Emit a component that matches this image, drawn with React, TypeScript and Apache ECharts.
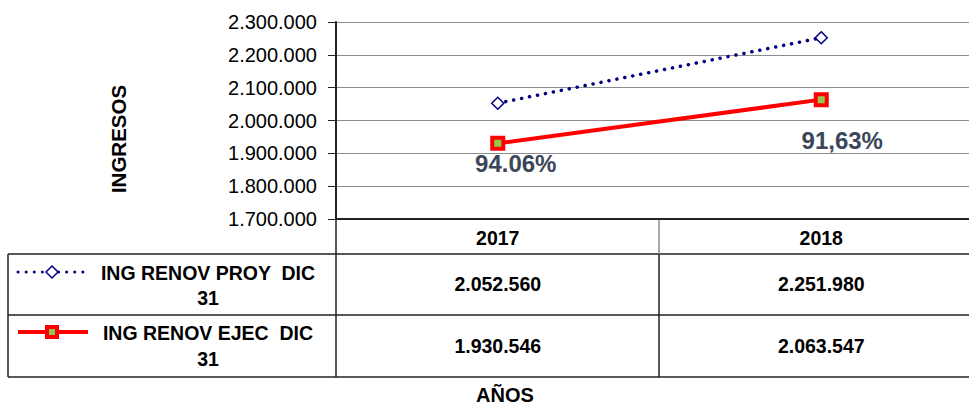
import React, { useEffect, useRef } from "react";
import * as echarts from "echarts";

const years = ["2017", "2018"];
const proyName = "ING RENOV PROY  DIC\n31";
const ejecName = "ING RENOV EJEC  DIC\n31";
const proy = [2052560, 2251980];
const ejec = [1930546, 2063547];
const pctLabels = ["94.06%", "91,63%"];
const yTicks = { min: 1700000, max: 2300000, interval: 100000 };
const yTitle = "INGRESOS";
const xTitle = "AÑOS";

const fmt = (v: number) => String(Math.round(v)).replace(/\B(?=(\d{3})+(?!\d))/g, ".");

const FONT = "Liberation Sans";
const TABLE_SIZE = 19.5;

export default function App() {
  const ref = useRef<HTMLDivElement>(null);
  useEffect(() => {
    if (!ref.current) return;
    const chart = echarts.init(ref.current, undefined, { renderer: "svg" });
    const labelOffsets = [
      [18, -4],
      [21, 16],
    ];
    chart.setOption({
      animation: false,
      backgroundColor: "#fff",
      grid: { left: 336, top: 22, width: 647, height: 197, outerBoundsMode: "none", containLabel: false },
      xAxis: {
        type: "category",
        data: years,
        boundaryGap: true,
        axisLine: { show: true, lineStyle: { color: "#222", width: 2 } },
        axisTick: { show: false },
        splitLine: { show: false },
        axisLabel: {
          margin: 9,
          fontSize: TABLE_SIZE,
          fontWeight: "bold",
          fontFamily: FONT,
          color: "#000",
        },
      },
      yAxis: {
        type: "value",
        min: yTicks.min,
        max: yTicks.max,
        interval: yTicks.interval,
        axisLine: { show: true, lineStyle: { color: "#222", width: 2 } },
        axisTick: { show: true, inside: false, length: 8, lineStyle: { color: "#222", width: 1 } },
        splitLine: { show: true, lineStyle: { color: "#8c8c8c", width: 1 } },
        axisLabel: {
          margin: 19,
          fontSize: 20,
          fontFamily: FONT,
          color: "#000",
          formatter: (v: number) => fmt(v),
        },
      },
      series: [
        {
          name: "proy",
          type: "line",
          data: proy,
          symbol: "diamond",
          symbolSize: 12,
          lineStyle: { color: "#000080", width: 3.5, type: [0.1, 8], cap: "round" },
          itemStyle: { color: "#fff", borderColor: "#000080", borderWidth: 1.5 },
          z: 3,
        },
        {
          name: "ejec",
          type: "line",
          data: ejec.map((v, i) => ({
            value: v,
            label: { offset: labelOffsets[i] },
          })),
          symbol: "rect",
          symbolSize: 11,
          lineStyle: { color: "#ff0000", width: 4 },
          itemStyle: { color: "#92c84f", borderColor: "#ff0000", borderWidth: 4 },
          label: {
            show: true,
            position: "bottom",
            fontSize: 24,
            fontWeight: "bold",
            fontFamily: FONT,
            color: "#3b4658",
            formatter: (p: any) => pctLabels[p.dataIndex],
          },
          z: 4,
        },
      ],
    });

    const xs = years.map((y) => chart.convertToPixel({ xAxisIndex: 0 }, y) as number);
    const dark = { stroke: "#222", lineWidth: 1.5 };
    const gray = { stroke: "#8c8c8c", lineWidth: 1.5 };
    const rowTop = 254;
    const rowMid = 315;
    const rowBot = 377;
    const textStyle = (text: string, size: number, lh?: number) => ({
      text,
      align: "center",
      verticalAlign: "middle",
      fontSize: size,
      fontWeight: "bold",
      fontFamily: FONT,
      lineHeight: lh,
      fill: "#000",
    });
    const graphics: any[] = [
      { type: "line", shape: { x1: 8, y1: rowTop, x2: 969, y2: rowTop }, style: dark },
      { type: "line", shape: { x1: 8, y1: rowMid, x2: 969, y2: rowMid }, style: dark },
      { type: "line", shape: { x1: 8, y1: rowBot, x2: 969, y2: rowBot }, style: dark },
      { type: "line", shape: { x1: 8, y1: rowTop, x2: 8, y2: rowBot }, style: dark },
      { type: "line", shape: { x1: 336, y1: 219, x2: 336, y2: rowBot }, style: dark },
      { type: "line", shape: { x1: 659, y1: 219, x2: 659, y2: rowTop }, style: gray },
      { type: "line", shape: { x1: 659, y1: rowTop, x2: 659, y2: rowBot }, style: dark },
      // legend keys
      {
        type: "line",
        shape: { x1: 18, y1: 272, x2: 88, y2: 272 },
        style: { stroke: "#000080", lineWidth: 3, lineDash: [0.1, 8], lineCap: "round" },
      },
      {
        type: "polygon",
        shape: { points: [[52, 266], [58, 272], [52, 278], [46, 272]] },
        style: { fill: "#fff", stroke: "#000080", lineWidth: 1.5 },
      },
      {
        type: "line",
        shape: { x1: 18, y1: 332, x2: 88, y2: 332 },
        style: { stroke: "#ff0000", lineWidth: 4 },
      },
      {
        type: "rect",
        shape: { x: 47, y: 327, width: 10, height: 10 },
        style: { fill: "#92c84f", stroke: "#ff0000", lineWidth: 4 },
      },
      { type: "text", x: 208, y: 285, style: textStyle(proyName, TABLE_SIZE, 25) },
      { type: "text", x: 208, y: 345.5, style: textStyle(ejecName, TABLE_SIZE, 26) },
      { type: "text", x: 505, y: 395, style: textStyle(xTitle, 20) },
      { type: "text", x: 118, y: 139, rotation: Math.PI / 2, style: textStyle(yTitle, 20.5) },
    ];
    xs.forEach((x, i) => {
      graphics.push({ type: "text", x, y: 284, style: textStyle(fmt(proy[i]), TABLE_SIZE) });
      graphics.push({ type: "text", x, y: 346, style: textStyle(fmt(ejec[i]), TABLE_SIZE) });
    });
    chart.setOption({ graphic: graphics });
    return () => chart.dispose();
  }, []);
  return (
    <div
      ref={ref}
      style={{ position: "fixed", left: 0, top: 0, width: 969, height: 405, background: "#fff" }}
    />
  );
}
